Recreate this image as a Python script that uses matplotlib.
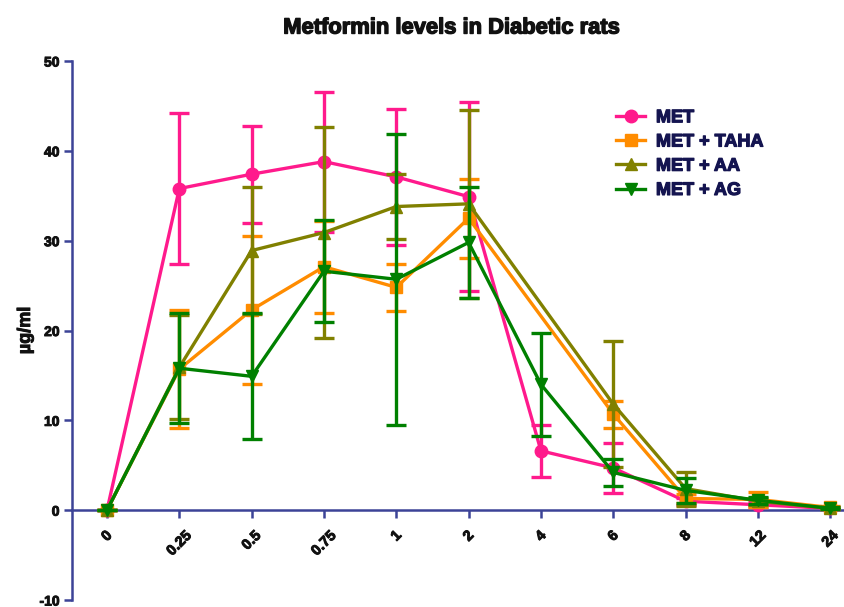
import numpy as np
import matplotlib
matplotlib.use("Agg")
import matplotlib.pyplot as plt
from matplotlib.lines import Line2D
import matplotlib.patheffects as pe

plt.rcParams['font.family'] = ['Liberation Sans', 'DejaVu Sans']
plt.rcParams['axes.unicode_minus'] = False

# Sampling times (h)
time_labels = ["0", "0.25", "0.5", "0.75", "1", "2", "4", "6", "8", "12", "24"]

# Mean plasma metformin (µg/ml) and SD per group; nan = not sampled
met_mean = [0.0, 35.8, 37.4, 38.8, 37.1, 34.9, 6.6, 4.7, 1.0, 0.6, 0.2]
met_sd = [0.0, 8.4, 5.4, 7.8, 7.6, 10.5, 2.9, 2.8, 0.4, 0.3, 0.1]

taha_mean = [0.0, 15.7, 22.3, 27.1, 24.8, 32.5, np.nan, 10.7, 1.3, 1.2, 0.3]
taha_sd = [0.0, 6.6, 8.2, 5.1, 2.6, 4.4, np.nan, 1.5, 0.5, 0.8, 0.2]

aa_mean = [0.0, 15.9, 28.9, 30.9, 33.8, 34.1, np.nan, 11.8, 2.4, 1.0, 0.2]
aa_sd = [0.0, 5.8, 7.1, 11.7, 3.6, 10.5, np.nan, 7.0, 1.9, 0.4, 0.1]

ag_mean = [0.0, 15.8, 14.9, 26.6, 25.7, 29.8, 14.0, 4.2, 2.2, 1.1, 0.2]
ag_sd = [0.0, 6.1, 7.0, 5.7, 16.2, 6.2, 5.7, 1.5, 1.4, 0.4, 0.1]

groups = [
    ("MET", met_mean, met_sd, "#ff1a8c", "o"),
    ("MET + TAHA", taha_mean, taha_sd, "#ff8c00", "s"),
    ("MET + AA", aa_mean, aa_sd, "#808000", "^"),
    ("MET + AG", ag_mean, ag_sd, "#008000", "v"),
]

axis_col = "#3c4397"
text_col = "#141450"


def heavy(col, w=0.9):
    return [pe.withStroke(linewidth=w, foreground=col)]


fig = plt.figure(figsize=(8.44, 6.07), dpi=100)
ax = fig.add_axes([72 / 844, 7 / 607, 1 - 72 / 844, 539 / 607])

x = np.arange(len(time_labels))
handles = []
for i, (name, mean, sd, col, mk) in enumerate(groups):
    m = np.array(mean, dtype=float)
    s = np.array(sd, dtype=float)
    ok = ~np.isnan(m)
    ax.errorbar(x[ok], m[ok], yerr=s[ok], color=col, lw=2.4, marker=mk,
                ms=9, capsize=7, capthick=2.4, elinewidth=2.4,
                zorder=3 + i, clip_on=False)
    handles.append(Line2D([], [], color=col, lw=2.4, marker=mk, ms=9))

ax.set_xlim(-0.484, 10.19)
ax.set_ylim(-10, 50)

for side in ("top", "right"):
    ax.spines[side].set_visible(False)
ax.spines["bottom"].set_position(("data", 0))
for side in ("left", "bottom"):
    ax.spines[side].set_color(axis_col)
    ax.spines[side].set_linewidth(1.8)

ax.set_yticks(np.arange(-10, 51, 10))
ax.set_xticks(x)
ax.set_xticklabels(time_labels, rotation=45, ha="center", va="top")
ax.tick_params(axis="both", colors=axis_col, width=1.8, length=6,
               labelcolor="#111111", labelsize=10.5)
ax.tick_params(axis="y", labelsize=10)
ax.tick_params(axis="x", pad=7)
ax.tick_params(axis="y", pad=3)
for lab in ax.get_xticklabels() + ax.get_yticklabels():
    lab.set_fontweight("bold")
    lab.set_path_effects(heavy("#111111", 0.7))

ax.set_ylabel("µg/ml", fontsize=13, fontweight="bold", color="#111111",
              labelpad=4, path_effects=heavy("#111111", 0.7))

fig.text(452 / 844, 1 - 28 / 607, "Metformin levels in Diabetic rats",
         ha="center", va="center", fontsize=15.8, fontweight="bold",
         color="#111111", path_effects=heavy("#111111", 1.0))

leg = fig.legend(handles, [g[0] for g in groups], loc="upper left",
                 bbox_to_anchor=(600 / 844, 1 - 93 / 607),
                 bbox_transform=fig.transFigure, frameon=False,
                 prop={"size": 13, "weight": "bold"}, handlelength=1.6,
                 labelspacing=0.4, handletextpad=0.6)
for t in leg.get_texts():
    t.set_color(text_col)
    t.set_path_effects(heavy(text_col, 0.9))

fig.savefig("out.png", dpi=100)
